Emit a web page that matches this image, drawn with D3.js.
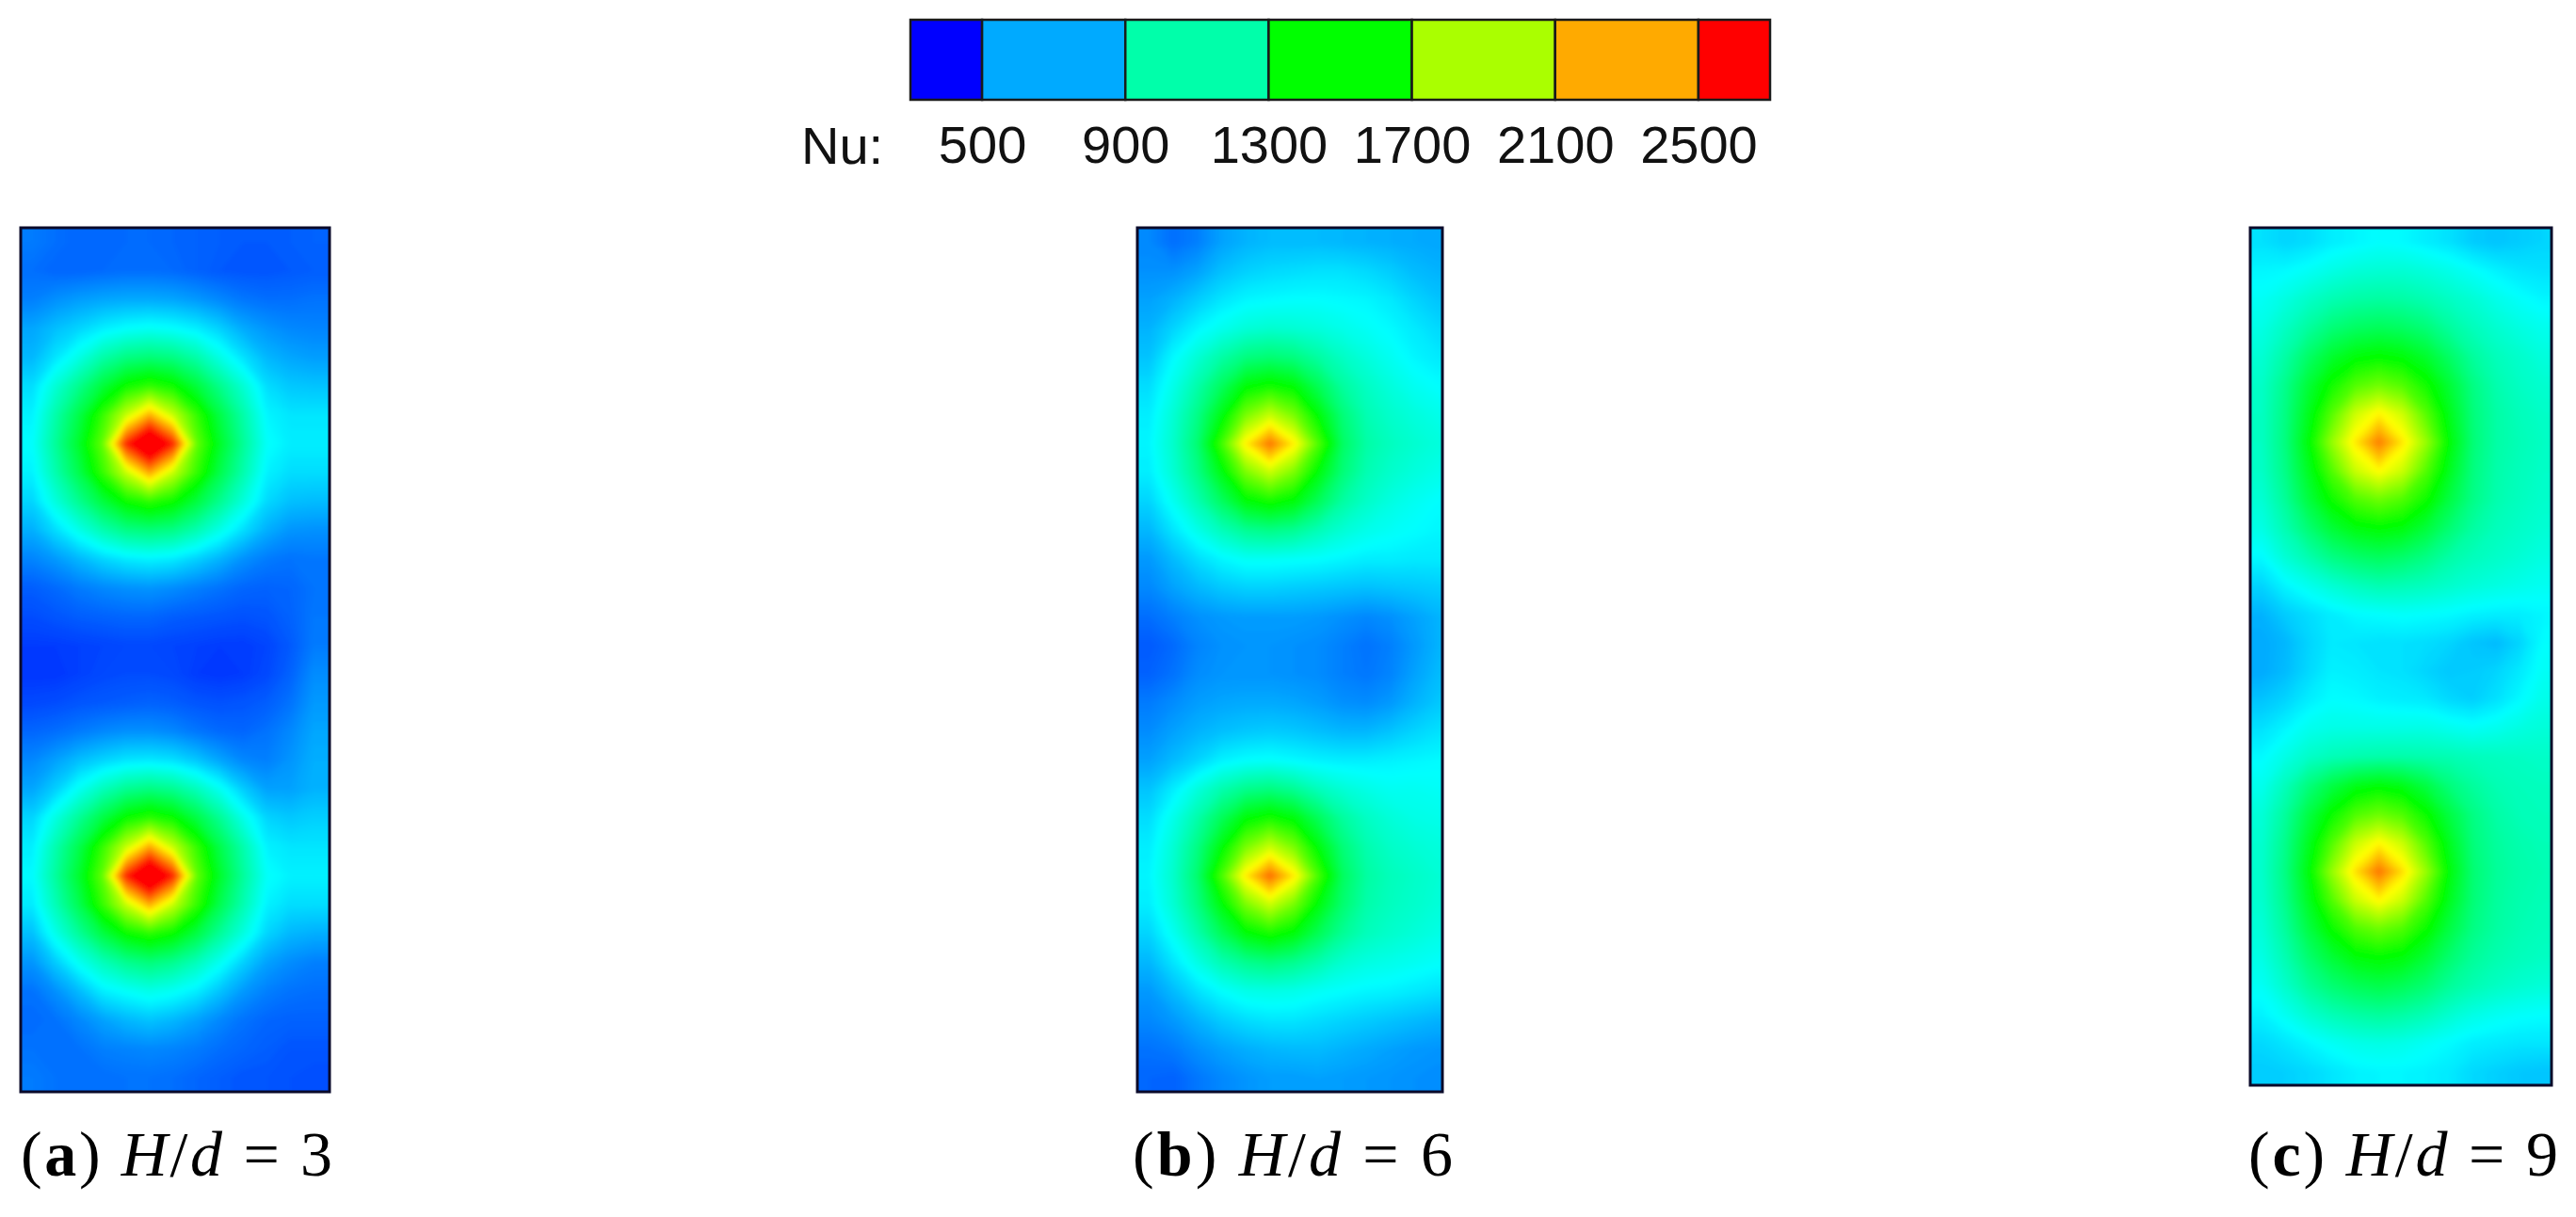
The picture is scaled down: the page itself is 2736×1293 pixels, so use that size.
<!DOCTYPE html>
<html>
<head>
<meta charset="utf-8">
<script src="https://cdn.jsdelivr.net/npm/d3@7"></script>
<style>
  html, body { margin: 0; background: #fff; }
  svg { display: block; }
</style>
</head>
<body>
<div id="chart"></div>
<script>
// Legend values
const nuTicks = [500, 900, 1300, 1700, 2100, 2500];
const nuBandEdges = [300, 500, 900, 1300, 1700, 2100, 2500, 2700];
const nuBandLevels = [300, 700, 1100, 1500, 1900, 2300, 2700];
const nuLabel = "Nu:";

// Panel labels
const panelLetters = ["a", "b", "c"];
const panelRatios = ["3", "6", "9"];

// Nusselt number, 30 rows x 13 columns
const nuA = [
  [590,560,540,540,550,550,540,530,520,510,510,520,530],
  [560,540,540,550,560,560,550,530,510,500,500,510,520],
  [600,640,670,690,700,700,690,660,620,580,560,560,570],
  [690,750,800,860,900,920,900,860,790,700,650,620,610],
  [730,840,960,1100,1190,1220,1190,1100,960,830,730,690,670],
  [820,1000,1170,1360,1530,1610,1530,1360,1170,1000,820,770,760],
  [870,1100,1330,1620,1960,2280,1960,1620,1330,1100,880,840,840],
  [900,1140,1400,1730,2600,3000,2600,1730,1400,1140,910,860,860],
  [870,1090,1320,1620,1960,2300,1960,1620,1320,1090,870,820,820],
  [800,980,1160,1350,1520,1600,1520,1350,1160,980,810,750,740],
  [710,820,950,1080,1180,1210,1180,1080,950,820,710,650,640],
  [610,660,730,800,850,870,850,790,720,640,590,570,580],
  [520,550,590,620,640,650,630,600,570,540,530,540,570],
  [480,500,520,530,540,540,520,510,500,490,500,530,580],
  [440,440,450,460,470,470,460,450,440,440,460,510,590],
  [430,430,450,470,480,480,470,440,430,440,470,530,630],
  [470,480,500,510,520,530,520,500,490,500,520,570,660],
  [540,560,590,620,640,640,620,580,550,540,570,620,690],
  [620,680,750,800,840,850,830,770,690,620,600,650,710],
  [690,790,930,1060,1160,1200,1160,1060,930,780,680,680,720],
  [800,970,1150,1340,1520,1600,1520,1340,1150,950,800,770,790],
  [860,1090,1320,1620,1960,2300,1960,1620,1320,1090,870,840,840],
  [890,1130,1390,1730,2600,3000,2600,1730,1390,1130,910,870,870],
  [850,1070,1310,1620,1960,2280,1960,1620,1310,1080,870,820,820],
  [750,950,1140,1340,1510,1590,1510,1340,1140,970,800,730,710],
  [650,780,930,1060,1160,1210,1160,1060,930,790,680,630,600],
  [570,640,740,860,910,950,920,860,760,660,600,570,560],
  [550,570,620,680,730,760,730,680,620,570,540,530,530],
  [570,560,570,600,610,620,610,590,560,540,520,500,500],
  [590,570,560,560,570,570,560,540,520,500,500,490,480]
];
const nuB = [
  [620,560,600,680,720,740,740,740,730,720,710,700,690],
  [640,640,680,750,790,810,820,830,830,810,780,740,720],
  [680,720,780,840,880,890,900,900,890,880,850,800,760],
  [720,800,880,940,990,1010,1000,980,950,920,890,850,810],
  [760,890,1000,1110,1200,1230,1200,1120,1040,980,930,880,850],
  [820,950,1100,1280,1480,1540,1480,1300,1130,1040,980,930,900],
  [860,1000,1180,1450,1780,1960,1780,1480,1220,1080,1020,980,950],
  [880,1020,1230,1640,2130,2420,2130,1680,1270,1110,1050,1010,980],
  [860,1000,1180,1450,1780,1960,1780,1470,1220,1080,1020,980,950],
  [800,930,1080,1270,1470,1540,1470,1290,1120,1030,970,930,900],
  [730,840,950,1060,1150,1180,1150,1070,1000,950,920,900,880],
  [660,740,820,880,920,920,910,900,880,860,860,850,850],
  [620,680,730,770,790,790,780,770,760,750,760,770,780],
  [560,600,640,660,670,670,670,660,640,620,640,680,720],
  [510,550,610,640,650,650,640,630,600,570,600,660,720],
  [530,570,630,650,650,650,640,630,600,580,610,680,740],
  [590,630,670,690,700,700,690,670,640,630,660,720,770],
  [630,680,720,750,770,780,770,750,730,730,760,800,830],
  [680,740,800,870,900,910,890,870,860,860,870,880,890],
  [760,860,980,1090,1170,1200,1150,1060,1000,960,930,930,920],
  [820,950,1100,1290,1480,1550,1470,1290,1130,1040,990,960,950],
  [860,1000,1190,1470,1780,1970,1780,1470,1220,1090,1030,1000,980],
  [880,1020,1240,1660,2140,2440,2140,1660,1280,1120,1060,1030,1000],
  [860,1000,1190,1470,1780,1970,1770,1470,1240,1100,1050,1020,990],
  [800,930,1090,1290,1470,1550,1470,1300,1150,1060,1020,990,960],
  [730,840,960,1080,1160,1200,1160,1090,1010,970,950,930,910],
  [660,740,830,900,950,960,950,920,900,880,870,850,830],
  [620,660,720,780,820,840,840,820,800,780,760,740,720],
  [570,590,640,680,710,730,740,740,720,700,680,660,650],
  [540,530,580,620,650,670,670,680,670,660,650,640,630]
];
const nuC = [
  [830,800,820,860,880,900,890,860,830,780,760,780,800],
  [880,890,920,960,990,1000,1000,980,950,910,870,840,830],
  [920,970,1030,1080,1110,1120,1110,1080,1040,1000,950,910,880],
  [960,1040,1130,1220,1270,1290,1270,1220,1130,1060,1010,970,940],
  [1000,1110,1260,1390,1470,1500,1470,1390,1260,1130,1060,1020,980],
  [1030,1170,1370,1540,1690,1760,1690,1540,1370,1190,1090,1040,1010],
  [1040,1190,1430,1700,1980,2120,1980,1700,1430,1210,1110,1060,1030],
  [1040,1200,1480,1850,2150,2400,2150,1850,1480,1220,1110,1070,1040],
  [1030,1180,1420,1690,1970,2100,1970,1690,1420,1200,1100,1060,1030],
  [1000,1140,1350,1530,1680,1750,1680,1530,1340,1180,1090,1050,1020],
  [960,1080,1230,1370,1460,1490,1460,1360,1230,1120,1060,1030,1000],
  [890,1000,1090,1190,1250,1280,1250,1190,1110,1060,1030,1000,970],
  [800,880,940,1000,1050,1080,1070,1050,1020,990,970,950,930],
  [720,780,820,860,890,900,910,900,890,870,860,860,880],
  [700,730,800,850,840,830,830,820,800,760,740,800,900],
  [700,740,810,870,860,840,830,800,770,780,800,850,920],
  [760,800,860,900,890,870,860,850,810,790,830,890,950],
  [830,880,940,960,960,960,960,960,940,920,940,970,990],
  [890,960,1030,1070,1090,1100,1100,1090,1080,1060,1050,1040,1030],
  [940,1060,1210,1340,1440,1480,1440,1340,1210,1130,1080,1060,1050],
  [990,1130,1340,1520,1680,1750,1680,1520,1340,1190,1110,1070,1060],
  [1010,1170,1420,1690,1970,2110,1970,1690,1420,1210,1130,1090,1070],
  [1020,1190,1470,1850,2170,2420,2170,1850,1470,1230,1140,1100,1080],
  [1010,1170,1420,1690,1970,2110,1970,1690,1420,1220,1130,1090,1070],
  [990,1130,1340,1520,1680,1750,1680,1520,1340,1190,1120,1080,1060],
  [960,1080,1240,1370,1470,1500,1470,1370,1240,1140,1090,1060,1040],
  [920,1020,1140,1230,1290,1320,1290,1230,1140,1080,1040,1010,990],
  [870,930,1010,1070,1110,1130,1110,1070,1010,960,930,910,900],
  [810,840,880,920,950,960,950,920,890,860,850,840,840],
  [780,790,810,840,870,880,880,870,850,810,790,770,760]
];

const width = 2736;
const height = 1293;
const cols = 13;
const rows = 30;

const svg = d3.select("#chart")
  .append("svg")
  .attr("width", width)
  .attr("height", height)
  .attr("viewBox", [0, 0, width, height]);

// soften the maps a little, the original is a resampled raster
svg.append("filter")
  .attr("id", "soft")
  .append("feGaussianBlur")
    .attr("stdDeviation", 2);

// rainbow used by the maps and the legend
const color = d3.scaleLinear()
  .domain([300, 900, 1500, 2100, 2700])
  .range(["#0000ff", "#00ffff", "#00ff00", "#ffff00", "#ff0000"])
  .clamp(true);

/*

  Legend

*/
const legendX = d3.scaleLinear().domain([300, 2700]).range([967, 1880]);
const legendTop = 21;
const legendBottom = 106;

svg.append("g").selectAll("rect")
  .data(nuBandLevels)
  .enter()
  .append("rect")
    .attr("x", (d, i) => legendX(nuBandEdges[i]))
    .attr("y", legendTop)
    .attr("width", (d, i) => legendX(nuBandEdges[i + 1]) - legendX(nuBandEdges[i]))
    .attr("height", legendBottom - legendTop)
    .attr("fill", d => color(d))
    .attr("stroke", "#1a1a1a")
    .attr("stroke-width", 2.5);

const legendAxis = svg.append("g")
  .attr("transform", "translate(0,130)")
  .call(d3.axisBottom(legendX).tickValues(nuTicks).tickSize(0).tickPadding(0).tickFormat(d3.format("d")));
legendAxis.select(".domain").remove();
legendAxis.selectAll("text")
  .attr("font-family", "'Liberation Sans', Arial, sans-serif")
  .attr("font-size", 56)
  .attr("fill", "#111")
  .attr("dy", "0.71em")
  .attr("y", 3);

svg.append("text")
  .attr("x", 851)
  .attr("y", 174)
  .attr("font-family", "'Liberation Sans', Arial, sans-serif")
  .attr("font-size", 56)
  .attr("fill", "#111")
  .text(nuLabel);

/*

  Maps

*/
const panels = [
  {values: nuA, left: 22, right: 350, top: 242, bottom: 1160, cellW: 24.9, cellH: 30.6, capX: 22, capW: 331},
  {values: nuB, left: 1208, right: 1532, top: 242, bottom: 1160, cellW: 25.6, cellH: 30.6, capX: 1203, capW: 340},
  {values: nuC, left: 2390, right: 2710, top: 242, bottom: 1153, cellW: 24.9, cellH: 30.4, capX: 2388, capW: 329}
];

const thresholds = d3.range(250, 3050, 10);
const contours = d3.contours().size([cols + 2, rows + 2]).thresholds(thresholds);

// repeat the outer rows and columns so contours don't cut the frame corners
function padGrid(values) {
  const padded = values.map(r => [r[0], ...r, r[r.length - 1]]);
  return [padded[0], ...padded, padded[padded.length - 1]].flat();
}

panels.forEach((p, k) => {
  svg.append("clipPath")
    .attr("id", "clip" + k)
    .append("rect")
      .attr("x", p.left)
      .attr("y", p.top)
      .attr("width", p.right - p.left)
      .attr("height", p.bottom - p.top);

  const path = d3.geoPath(d3.geoTransform({
    point(x, y) {
      this.stream.point(p.left + (x - 1) * p.cellW, p.top + (y - 1) * p.cellH);
    }
  }));

  svg.append("g")
    .attr("clip-path", `url(#clip${k})`)
    .append("g")
    .attr("filter", "url(#soft)")
    .selectAll("path")
    .data(contours(padGrid(p.values)))
    .enter()
    .append("path")
      .attr("d", path)
      .attr("fill", d => color(d.value + 5))
      .attr("stroke", d => color(d.value + 5))
      .attr("stroke-width", 0.8);

  svg.append("rect")
    .attr("x", p.left)
    .attr("y", p.top)
    .attr("width", p.right - p.left)
    .attr("height", p.bottom - p.top)
    .attr("fill", "none")
    .attr("stroke", "#0a0a2a")
    .attr("stroke-width", 3);

  // caption under the map
  const cap = svg.append("text")
    .attr("x", p.capX)
    .attr("y", 1249)
    .attr("font-family", "'Liberation Serif', 'Times New Roman', serif")
    .attr("font-size", 68)
    .attr("fill", "#000")
    .attr("textLength", p.capW)
    .attr("lengthAdjust", "spacing");
  cap.append("tspan").text("(");
  cap.append("tspan").attr("font-weight", "bold").text(panelLetters[k]);
  cap.append("tspan").text(") ");
  cap.append("tspan").attr("font-style", "italic").text("H");
  cap.append("tspan").text("/");
  cap.append("tspan").attr("font-style", "italic").text("d");
  cap.append("tspan").text(" = " + panelRatios[k]);
});
</script>
</body>
</html>
